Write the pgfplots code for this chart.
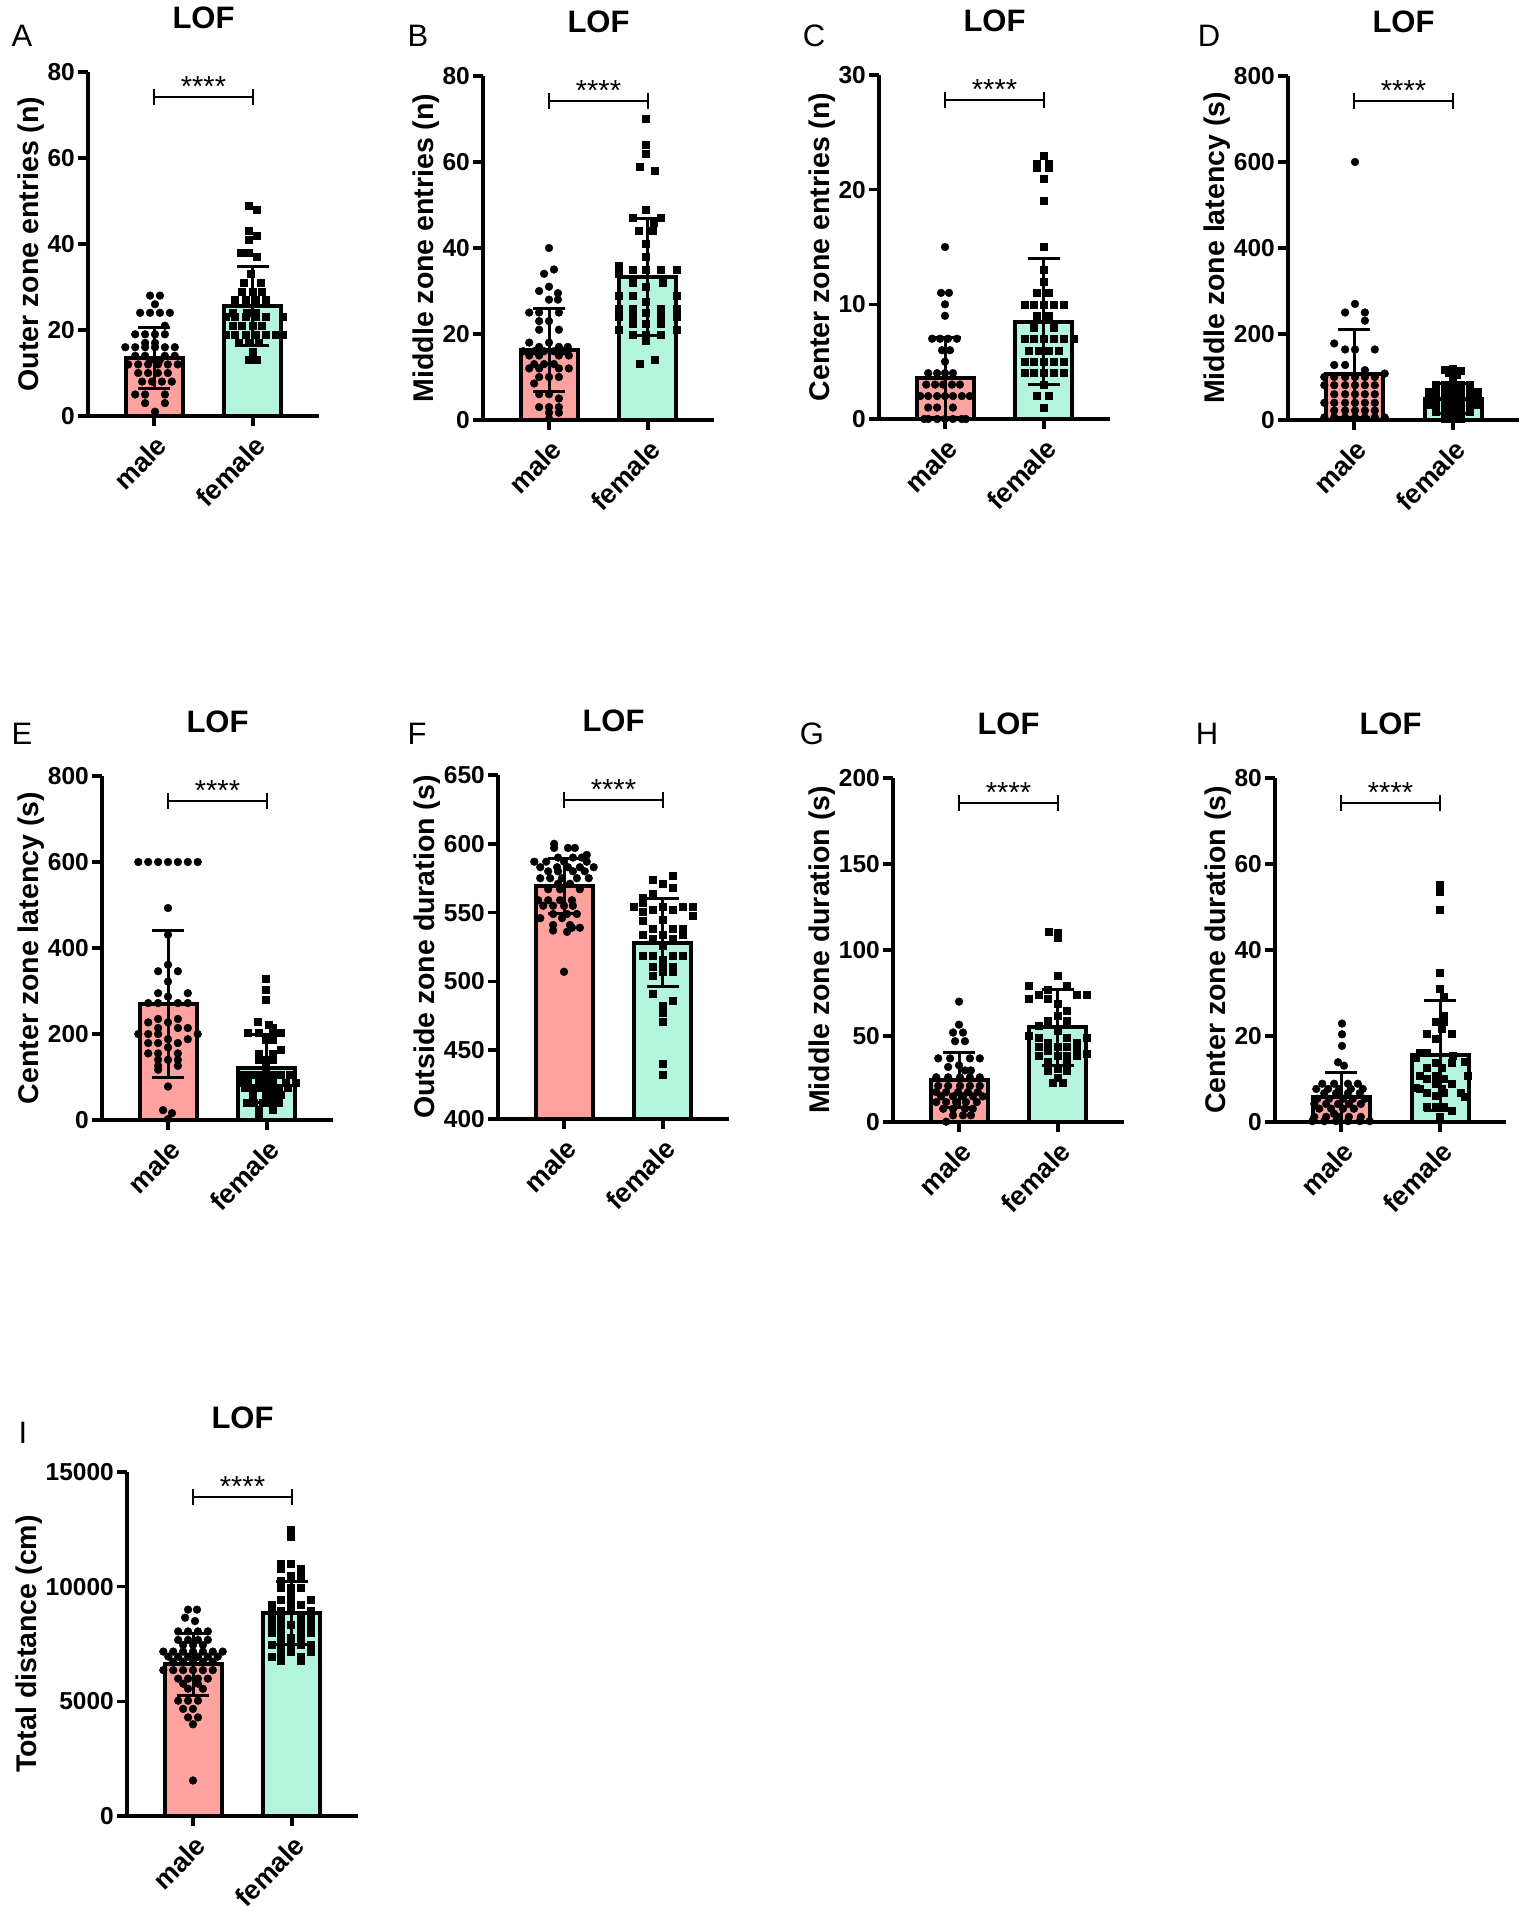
\documentclass[border=0pt]{standalone}
\usepackage{fontspec}
\setmainfont{Liberation Sans}
\usepackage{pgfplots}
\pgfplotsset{compat=1.18}
\definecolor{malec}{RGB}{253,162,159}
\definecolor{femc}{RGB}{180,246,221}
\newcommand{\fs}[1]{\fontsize{#1}{#1}\selectfont}
\pgfplotsset{
 lof/.style={
  scale only axis, width=231pt, height=344pt,
  xmin=-0.667, xmax=1.667,
  axis lines*=left,
  axis line style={line width=4pt},
  tick pos=left, tick align=outside,
  major tick length=10pt,
  every tick/.style={line width=3.5pt, black},
  xtick={0,1}, xticklabels={male,female},
  xticklabel style={font=\fs{27}\bfseries, rotate=45, anchor=north east, inner sep=2pt, xshift=-3pt, yshift=-4pt},
  yticklabel style={font=\fs{24.5}\bfseries, inner sep=3pt},
  ylabel style={font=\fs{28.5}\bfseries, inner sep=0pt},
  title={LOF},
  title style={font=\fs{31}\bfseries, at={(0.5,1)}, anchor=center, yshift=48pt, inner sep=0pt},
  /pgf/number format/assume math mode=true,
  /pgf/number format/1000 sep={},
  scaled y ticks=false,
 },
 barM/.style={ybar, bar width=57pt, bar shift=0pt, fill=malec, draw=black, line width=4pt},
 barF/.style={ybar, bar width=57pt, bar shift=0pt, fill=femc, draw=black, line width=4pt},
 ptsM/.style={only marks, mark=*, mark size=3.9pt, black},
 ptsF/.style={only marks, mark=square*, mark size=3.5pt, black, x filter/.expression={x+1}},
 sd/.style={black, line width=3pt, mark=-, mark size=16pt, mark options={line width=3pt, solid}, forget plot},
}
\newcommand{\sig}[1]{%
 \draw[line width=2pt] (axis cs:0,#1) -- (axis cs:1,#1);
 \draw[line width=2pt] ([yshift=8pt]axis cs:0,#1) -- ([yshift=-8pt]axis cs:0,#1);
 \draw[line width=2pt] ([yshift=8pt]axis cs:1,#1) -- ([yshift=-8pt]axis cs:1,#1);
 \node[anchor=base, inner sep=0pt, font=\fs{29}] at (axis cs:0.5,#1) {****};
}
\begin{document}
\begin{tikzpicture}
\path[use as bounding box] (0pt,0pt) rectangle (1528pt,-1920pt);
\node[font=\fs{31}] at (22pt,-36pt) {A};
\node[font=\fs{31}] at (418pt,-36pt) {B};
\node[font=\fs{31}] at (814pt,-36pt) {C};
\node[font=\fs{31}] at (1209pt,-36pt) {D};
\node[font=\fs{31}] at (22pt,-734pt) {E};
\node[font=\fs{31}] at (417pt,-734pt) {F};
\node[font=\fs{31}] at (812pt,-734pt) {G};
\node[font=\fs{31}] at (1207pt,-734pt) {H};
\node[font=\fs{31}] at (23pt,-1433pt) {I};

% ---------- A ----------
\begin{axis}[lof, at={(88pt,-416pt)}, anchor=south west, ymin=0, ymax=80, ytick={0,20,40,60,80}, ylabel={Outer zone entries (n)}]
\addplot[barM] coordinates {(0,13.5)};
\addplot[barF] coordinates {(1,25.6)};
\addplot[ptsM] coordinates {(-0.04,28)(0.06,28)(0.01,26)(-0.14,24)(-0.04,24)(0.06,24)(0.16,24)(0.11,21)(-0.19,19)(-0.09,19)(0.01,19)(0.11,19)(-0.09,17)(0.01,17)(-0.29,16)(-0.19,16)(-0.09,16)(0.01,16)(0.11,16)(0.21,16)(-0.19,14)(-0.09,14)(0.11,14)(0.21,14)(-0.04,13)(0.06,13)(-0.26,12)(-0.16,12)(-0.06,12)(0.04,12)(0.14,12)(0.24,12)(-0.16,10)(-0.06,10)(0.04,10)(0.14,10)(-0.12,8)(-0.02,8)(0.08,8)(0.18,8)(-0.19,5)(-0.09,5)(0.11,5)(-0.09,3)(0.11,3)(0.01,1)};
\addplot[ptsF] coordinates {(-0.04,49)(0.04,48)(-0.04,43)(0.04,42)(-0.04,41)(-0.12,38)(-0.04,38)(0.04,37)(-0.02,33)(-0.09,31)(0.08,31)(-0.11,29)(0,29)(0.09,29)(-0.18,27)(-0.07,27)(0.03,27)(0.13,27)(-0.21,24)(-0.06,24)(0.03,24)(-0.28,23)(-0.18,23)(-0.07,23)(0.03,23)(0.13,23)(0.30,23)(-0.21,21)(-0.11,21)(0,21)(0.09,21)(-0.28,19)(-0.18,19)(-0.07,19)(0.03,19)(0.13,19)(0.23,19)(0.30,19)(-0.14,17)(-0.04,17)(0.06,17)(0,15)(-0.04,13)(0.04,13)};
\addplot[sd] coordinates {(0,6.5)(0,20.5)};
\addplot[sd] coordinates {(1,16.5)(1,34.7)};
\sig{74.24}
\end{axis}

% ---------- B ----------
\begin{axis}[lof, at={(483pt,-420pt)}, anchor=south west, ymin=0, ymax=80, ytick={0,20,40,60,80}, ylabel={Middle zone entries (n)}]
\addplot[barM] coordinates {(0,16.3)};
\addplot[barF] coordinates {(1,33.3)};
\addplot[ptsM] coordinates {(0,40)(0.05,35)(-0.05,34)(0,31)(-0.10,30)(0.09,29.5)(0,28)(0.09,28)(-0.20,25)(-0.10,25)(0.10,25)(-0.10,23)(0,23)(-0.10,21)(0.10,21)(-0.20,18)(0,18)(-0.10,17)(0.10,17)(0.19,17)(-0.26,16)(-0.15,16)(-0.05,16)(0.05,16)(0.15,16)(-0.20,15)(-0.10,15)(0.10,15)(0.20,15)(-0.15,13)(-0.05,13)(0.05,13)(-0.20,12)(-0.10,12)(0.10,12)(0.20,12)(-0.10,10)(0,10)(0.10,10)(-0.15,8.5)(-0.10,6)(0,6)(0.10,5)(-0.10,3)(0,3)(0.10,3)(0,1.7)(0.10,1.7)(0,0.3)};
\addplot[ptsF] coordinates {(-0.02,70)(-0.02,64)(-0.02,62)(-0.08,59)(0.07,58)(-0.02,49)(-0.15,47)(0.13,47)(0.06,46)(-0.09,44)(0.05,44)(-0.02,41)(-0.02,38)(-0.30,36)(-0.15,35)(-0.02,35)(0.13,35)(0.29,35)(-0.30,34)(-0.15,32)(0.15,32)(-0.02,31)(-0.30,29)(-0.15,29)(0.29,29)(-0.02,27.5)(-0.30,26)(-0.15,26)(0.13,26)(0.29,26)(-0.02,25)(-0.30,24)(-0.15,24)(0.13,24)(0.29,24)(-0.15,22.5)(-0.02,22.5)(0.13,22.5)(-0.30,21)(0.29,21)(-0.15,19.8)(-0.02,19.8)(0.13,19.8)(-0.02,18.5)(0.07,14)(-0.08,13)};
\addplot[sd] coordinates {(0,6.6)(0,26.0)};
\addplot[sd] coordinates {(1,19.7)(1,46.9)};
\sig{74.24}
\end{axis}

% ---------- C ----------
\begin{axis}[lof, at={(879pt,-419pt)}, anchor=south west, ymin=0, ymax=30, ytick={0,10,20,30}, ylabel={Center zone entries (n)}]
\addplot[barM] coordinates {(0,3.6)};
\addplot[barF] coordinates {(1,8.5)};
\addplot[ptsM] coordinates {(0,15)(-0.04,11)(0.04,11)(0,10)(0,9)(-0.13,7)(-0.05,7)(0.03,7)(0.12,7)(-0.03,6)(0.05,6)(0,5)(-0.17,4)(-0.08,4)(0,4)(0.08,4)(-0.19,3)(-0.10,3)(-0.02,3)(0.07,3)(0.15,3)(-0.25,2)(-0.17,2)(-0.08,2)(0,2)(0.08,2)(0.17,2)(0.25,2)(-0.17,1)(-0.08,1)(0.08,1)(-0.21,0)(-0.17,0)(-0.08,0)(0,0)(0.08,0)(0.17,0)(0.21,0)};
\addplot[ptsF] coordinates {(0,23)(-0.07,22.3)(0.05,22.3)(-0.07,21.9)(0.05,21.9)(0,21)(0,19)(0,15)(0,13)(0,12)(-0.07,11)(0.05,11)(-0.19,10)(-0.10,10)(0,10)(0.10,10)(0.20,10)(-0.07,9)(0.05,9)(-0.10,8)(0.10,8)(-0.20,7)(-0.10,7)(0,7)(0.10,7)(0.20,7)(0.30,7)(-0.15,6)(-0.05,6)(0.05,6)(0.15,6)(-0.20,5)(-0.10,5)(0,5)(0.10,5)(0.20,5)(-0.20,4)(-0.10,4)(0,4)(0.10,4)(0.20,4)(0,3)(-0.07,2)(0.05,2)(0,1)};
\addplot[sd] coordinates {(0,0.1)(0,7.1)};
\addplot[sd] coordinates {(1,3.0)(1,14.0)};
\sig{27.84}
\end{axis}

% ---------- D ----------
\begin{axis}[lof, at={(1288pt,-420pt)}, anchor=south west, ymin=0, ymax=800, ytick={0,200,400,600,800}, ylabel={Middle zone latency (s)}]
\addplot[barM] coordinates {(0,108)};
\addplot[barF] coordinates {(1,50)};
\addplot[ptsM] coordinates {(0.01,600)(0.01,270)(-0.09,250)(0.11,250)(0.11,231)(-0.20,178)(-0.09,164)(0.01,164)(0.21,164)(-0.20,128)(-0.09,128)(0.11,116)(0.31,108)(-0.30,100)(-0.20,100)(-0.09,100)(0.01,100)(0.11,100)(0.21,100)(-0.30,81)(-0.20,81)(-0.09,81)(0.01,81)(0.11,81)(0.21,81)(-0.20,60)(-0.09,60)(0.01,60)(0.11,60)(0.21,60)(-0.30,40)(-0.20,40)(-0.09,40)(0.01,40)(0.11,40)(0.21,40)(-0.20,22)(-0.09,22)(0.01,22)(0.11,22)(0.21,22)(-0.30,6)(-0.20,6)(-0.09,6)(0.01,6)(0.11,6)(0.21,6)(0.31,6)};
\addplot[ptsF] coordinates {(-0.08,118)(0,120)(0.08,115)(-0.04,110)(0.04,105)(0,100)(-0.17,81)(-0.08,81)(0,81)(0.08,81)(0.17,81)(-0.25,66)(-0.17,66)(-0.08,66)(0,66)(0.08,66)(0.17,66)(0.25,66)(-0.25,50)(-0.17,50)(-0.08,50)(0,50)(0.08,50)(0.17,50)(0.25,50)(-0.25,35)(-0.17,35)(-0.08,35)(0,35)(0.08,35)(0.17,35)(0.25,35)(-0.17,19)(-0.08,19)(0,19)(0.08,19)(0.17,19)(-0.08,4)(0,4)(0.08,4)};
\addplot[sd] coordinates {(0,5)(0,211)};
\addplot[sd] coordinates {(1,16)(1,84)};
\sig{742.4}
\end{axis}

% ---------- E ----------
\begin{axis}[lof, at={(102pt,-1120pt)}, anchor=south west, ymin=0, ymax=800, ytick={0,200,400,600,800}, ylabel={Center zone latency (s)}]
\addplot[barM] coordinates {(0,270)};
\addplot[barF] coordinates {(1,120)};
\addplot[ptsM] coordinates {(-0.30,600)(-0.20,600)(-0.10,600)(0,600)(0.10,600)(0.20,600)(0.30,600)(0,493)(0,431)(0,361)(-0.10,346)(0.10,346)(0,322)(-0.10,295)(0.20,295)(0,287)(-0.20,272)(-0.10,272)(0.10,272)(0.20,272)(-0.10,235)(0.10,235)(-0.20,227)(0,227)(-0.10,214)(0.10,214)(0.20,214)(-0.30,200)(-0.20,200)(-0.10,200)(0.30,200)(0,188)(0.20,188)(-0.20,179)(-0.10,179)(0.10,179)(0,169)(-0.20,155)(-0.10,155)(0.10,155)(-0.10,140)(0,140)(0.10,140)(-0.10,126)(0.10,126)(-0.10,117)(0,78)(-0.05,23)(0.04,16)(0,2)};
\addplot[ptsF] coordinates {(-0.01,328)(-0.01,304)(-0.01,280)(-0.09,229)(0.02,222)(0.06,214)(-0.19,202)(-0.08,202)(0.06,202)(0.14,202)(-0.01,186)(0.06,186)(0.14,163)(-0.08,155)(0.06,155)(-0.08,141)(-0.01,141)(0.06,141)(-0.01,124)(-0.25,105)(-0.16,105)(-0.08,105)(-0.01,105)(0.06,105)(0.14,105)(0.23,105)(-0.28,87)(-0.19,87)(-0.08,87)(-0.01,87)(0.06,87)(0.19,87)(0.29,87)(-0.23,74)(-0.14,74)(-0.06,74)(0.04,74)(0.12,74)(0.21,74)(-0.14,58)(-0.01,58)(0.06,58)(0.14,58)(-0.21,40)(-0.13,40)(-0.04,40)(0.04,40)(0.12,40)(-0.08,25)(0.06,25)(-0.08,13)};
\addplot[sd] coordinates {(0,100)(0,440)};
\addplot[sd] coordinates {(1,40)(1,200)};
\sig{742.4}
\end{axis}

% ---------- F ----------
\begin{axis}[lof, at={(498pt,-1119pt)}, anchor=south west, ymin=400, ymax=650, ytick={400,450,500,550,600,650}, ylabel={Outside zone duration (s)}]
\addplot[barM] coordinates {(0,569)};
\addplot[barF] coordinates {(1,528)};
\addplot[ptsM] coordinates {(-0.10,600)(-0.10,597)(0.04,597)(0.11,597)(0.23,592)(-0.06,590)(0.09,590)(0.18,590)(-0.30,587)(-0.18,587)(0,587)(0.23,587)(-0.24,583)(-0.07,583)(0.04,583)(0.16,583)(0.30,583)(-0.16,580)(-0.06,580)(0.09,580)(0.21,580)(-0.24,575)(-0.14,575)(-0.02,575)(0.13,575)(0.25,575)(-0.06,571)(0.06,571)(-0.16,567)(-0.04,567)(0.16,567)(-0.26,559)(-0.16,559)(-0.04,559)(0.08,559)(-0.21,555)(-0.11,555)(0,555)(0.09,555)(-0.11,549)(0.03,549)(0.13,549)(-0.24,546)(-0.02,546)(-0.11,541)(0.06,541)(0.08,539)(0.16,539)(-0.11,537)(0.03,536)(0,507)};
\addplot[ptsF] coordinates {(0.10,577)(-0.10,574)(0,571)(0.10,568)(-0.10,564)(-0.20,561)(-0.20,557)(-0.30,554)(0,554)(0.20,554)(0.30,554)(-0.20,551)(-0.10,552)(0.10,552)(0.30,548)(-0.20,544)(0,545)(-0.10,538)(0.10,538)(0.20,538)(-0.20,534)(0,534)(0.20,534)(-0.10,531)(0.10,531)(0,526)(-0.20,519)(-0.10,519)(0.10,519)(0.20,519)(0,516)(-0.10,511)(0,511)(0.10,511)(0,507)(0.10,507)(-0.10,504)(-0.10,491)(0.10,486)(0,482)(0,477)(0,471)(0,440)(0,432)};
\addplot[sd] coordinates {(0,549)(0,589)};
\addplot[sd] coordinates {(1,496)(1,560)};
\sig{632}
\end{axis}

% ---------- G ----------
\begin{axis}[lof, at={(893pt,-1122pt)}, anchor=south west, ymin=0, ymax=200, ytick={0,50,100,150,200}, ylabel={Middle zone duration (s)}]
\addplot[barM] coordinates {(0,24.5)};
\addplot[barF] coordinates {(1,55)};
\addplot[ptsM] coordinates {(0,70)(0,56.6)(-0.06,52)(0.04,52)(-0.04,47)(0.06,47)(-0.21,37)(-0.09,37)(0.11,37)(0.21,37)(-0.11,32)(0,33)(0.06,30)(0.12,30)(-0.23,26)(-0.11,26)(0.01,26)(0.11,26)(0.21,26)(-0.21,21)(-0.11,21)(0.01,21)(0.11,21)(0.21,21)(-0.23,17.4)(-0.13,17.4)(-0.01,17.4)(0.09,17.4)(0.19,17.4)(-0.18,14.9)(-0.06,14.9)(0.04,14.9)(0.14,14.9)(0.24,14.9)(-0.23,11.6)(-0.13,11.6)(-0.03,11.6)(0.07,11.6)(0.18,11.6)(-0.16,7.7)(-0.06,7.7)(0.06,7.7)(0.14,7.7)(-0.06,3.9)(0.04,3.9)(0.12,3.9)(-0.13,0.2)};
\addplot[ptsF] coordinates {(-0.09,110.7)(0,110)(0,107)(0,85)(-0.30,79)(0.09,79)(-0.10,77)(-0.20,74)(0.19,74)(0.29,74)(-0.30,71.5)(-0.10,71.5)(0,69)(0.09,64.7)(0,61.8)(-0.10,59)(0.09,59)(-0.20,56)(0,53)(-0.30,50)(-0.20,49)(0.09,49)(0.29,49)(-0.10,46)(0.19,46)(-0.20,44)(0,44)(0.09,44)(-0.10,41.5)(0.19,41.5)(0.29,40)(-0.20,38.6)(0,38.6)(0.09,38.6)(0.19,38.6)(-0.10,34.8)(0.09,34.8)(0,30.9)(-0.10,29.6)(0.09,29.6)(0,26)(-0.05,22.6)(0.05,22.6)};
\addplot[sd] coordinates {(0,8.5)(0,40.5)};
\addplot[sd] coordinates {(1,33)(1,77)};
\sig{185.6}
\end{axis}

% ---------- H ----------
\begin{axis}[lof, at={(1275pt,-1122pt)}, anchor=south west, ymin=0, ymax=80, ytick={0,20,40,60,80}, ylabel={Center zone duration (s)}]
\addplot[barM] coordinates {(0,5.8)};
\addplot[barF] coordinates {(1,15.5)};
\addplot[ptsM] coordinates {(0.01,22.9)(0.01,20.4)(0.01,17.7)(-0.03,13.9)(0.03,13.1)(-0.19,8.9)(-0.07,8.9)(0.07,8.9)(0.17,8.9)(-0.25,7.7)(-0.13,7.7)(-0.02,7.7)(0.10,7.7)(0.22,7.7)(-0.17,6.7)(-0.05,6.7)(0.07,6.7)(0.19,6.7)(-0.24,5.4)(-0.12,5.4)(0.02,5.4)(0.12,5.4)(0.24,5.4)(-0.27,4.2)(-0.15,4.2)(-0.03,4.2)(0.08,4.2)(0.20,4.2)(-0.22,3.1)(-0.10,3.1)(0.02,3.1)(0.13,3.1)(-0.07,1.9)(-0.27,1.2)(-0.15,1.2)(-0.03,1.2)(0.08,1.2)(0.20,1.2)(-0.29,0.2)(-0.17,0.2)(-0.05,0.2)(0.07,0.2)(0.19,0.2)(0.29,0.2)};
\addplot[ptsF] coordinates {(0,55.3)(0,53.6)(0,49.4)(0,34.7)(0,30.9)(0.04,29.1)(0.04,24.7)(-0.04,23.4)(0.04,23.4)(0.02,21.6)(-0.13,20.6)(0.12,20.6)(-0.04,19.3)(-0.21,16.2)(-0.13,16.2)(0.13,15.4)(-0.25,15)(0.25,14)(-0.04,13.7)(0.12,13.7)(-0.13,12.7)(0.02,12.7)(-0.21,10.8)(-0.04,10.8)(0.28,10.8)(-0.13,10)(0.04,10)(-0.04,8.9)(0.12,8.9)(-0.25,8)(-0.21,7.7)(0.02,7.7)(-0.13,6.9)(0.04,6.9)(0.21,6.9)(0.25,6)(-0.04,6.2)(-0.13,3.6)(-0.04,3.6)(0.04,3.6)(0.12,2.7)(0,1.2)};
\addplot[sd] coordinates {(0,0)(0,11.6)};
\addplot[sd] coordinates {(1,2.7)(1,28.3)};
\sig{74.24}
\end{axis}

% ---------- I ----------
\begin{axis}[lof, at={(127pt,-1816pt)}, anchor=south west, ymin=0, ymax=15000, ytick={0,5000,10000,15000}, ylabel={Total distance (cm)}]
\addplot[barM] coordinates {(0,6620)};
\addplot[barF] coordinates {(1,8850)};
\addplot[ptsM] coordinates {(-0.05,9000)(0.04,9000)(-0.08,8650)(0.02,8500)(-0.15,8050)(-0.05,8050)(0.05,8050)(0.15,8050)(-0.15,7680)(-0.05,7680)(0.05,7680)(0.15,7680)(-0.10,7460)(0,7460)(0.10,7460)(-0.30,7170)(-0.20,7170)(-0.10,7170)(0,7170)(0.10,7170)(0.20,7170)(0.30,7170)(-0.25,6950)(-0.15,6950)(-0.05,6950)(0.05,6950)(0.15,6950)(0.25,6950)(-0.20,6730)(-0.10,6730)(0,6730)(0.10,6730)(0.20,6730)(-0.30,6360)(-0.20,6360)(-0.10,6360)(0,6360)(0.10,6360)(0.20,6360)(-0.15,5990)(-0.05,5990)(0.05,5990)(0.15,5990)(-0.10,5770)(0.05,5770)(-0.05,5550)(0.10,5550)(-0.15,5030)(-0.05,5030)(0.05,5030)(-0.10,4670)(0,4670)(-0.05,4300)(0.05,4300)(0,4000)(0,1550)};
\addplot[ptsF] coordinates {(-0.01,12500)(-0.01,12200)(-0.11,11000)(-0.01,11000)(-0.11,10780)(0.09,10780)(-0.01,10480)(0.09,10480)(-0.11,10260)(-0.11,9970)(-0.01,9970)(0.09,9970)(-0.01,9750)(-0.11,9450)(-0.01,9450)(0.19,9450)(-0.21,9230)(-0.01,9230)(0.09,9230)(-0.21,8940)(-0.11,8940)(-0.01,8940)(0.19,8940)(-0.21,8640)(-0.11,8640)(0.09,8640)(0.19,8640)(-0.21,8350)(-0.11,8350)(-0.01,8350)(0.09,8350)(0.19,8350)(-0.21,7980)(-0.11,7980)(0.09,7980)(0.19,7980)(-0.11,7760)(-0.01,7760)(0.09,7760)(-0.21,7460)(-0.11,7460)(-0.01,7460)(0.09,7460)(0.19,7460)(-0.11,7170)(-0.01,7170)(0.19,7170)(-0.21,6950)(-0.11,6950)(0.09,6950)(-0.11,6760)(0.09,6760)};
\addplot[sd] coordinates {(0,5260)(0,7980)};
\addplot[sd] coordinates {(1,7470)(1,10230)};
\sig{13920}
\end{axis}
\end{tikzpicture}
\end{document}
